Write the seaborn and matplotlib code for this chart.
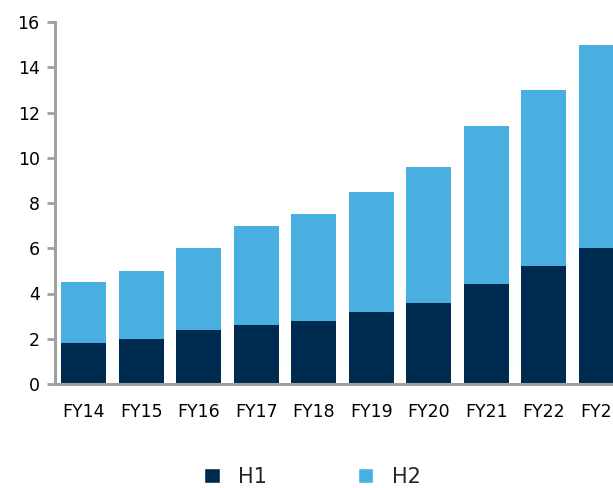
import matplotlib
matplotlib.use("Agg")
import matplotlib.pyplot as plt
from matplotlib.patches import Patch
import numpy as np
import pandas as pd
import seaborn as sns

years = ["FY14", "FY15", "FY16", "FY17", "FY18", "FY19", "FY20", "FY21", "FY22", "FY23"]
h1 = [1.8, 2.0, 2.4, 2.6, 2.8, 3.2, 3.6, 4.4, 5.2, 6.0]
h2 = [2.7, 3.0, 3.6, 4.4, 4.7, 5.3, 6.0, 7.0, 7.8, 9.0]
yticks = [0, 2, 4, 6, 8, 10, 12, 14, 16]

c_h1 = "#002B50"
c_h2 = "#48AFE0"
spine_col = "#A0A0A0"

df = pd.DataFrame({"year": years, "H1": h1, "H2": h2})
df["total"] = df["H1"] + df["H2"]

sns.set_theme(style="white")
plt.rcParams["font.family"] = ["DejaVu Sans"]

W, H = 613, 488
fig = plt.figure(figsize=(W / 100, H / 100), dpi=100)
left, right, bottom, top = 55, 630, 384, 22
ax = fig.add_axes([left / W, (H - bottom) / H, (right - left) / W, (bottom - top) / H])

# H2 stacked on top of H1: full-height bar first, H1 segment over it
sns.barplot(data=df, x="year", y="total", color=c_h2, width=0.79,
            saturation=1, edgecolor="none", ax=ax)
sns.barplot(data=df, x="year", y="H1", color=c_h1, width=0.79,
            saturation=1, edgecolor="none", ax=ax)

ax.set_xlim(-0.5, len(years) - 0.5)
ax.set_ylim(0, 16)
ax.set_yticks(yticks)
ax.set_xlabel("")
ax.set_ylabel("")

for s in ["top", "right"]:
    ax.spines[s].set_visible(False)
for s in ["left", "bottom"]:
    ax.spines[s].set_color(spine_col)
    ax.spines[s].set_linewidth(2.2)

ax.tick_params(axis="y", left=True, length=6, width=2, color=spine_col,
               labelsize=12.5, pad=5, labelcolor="black")
ax.tick_params(axis="x", bottom=False, labelsize=12.5, pad=8, labelcolor="black")

handles = [Patch(facecolor=c_h1, label="H1"), Patch(facecolor=c_h2, label="H2")]
fig.legend(handles=handles, loc="center", bbox_to_anchor=(0.5 + 6 / W, (H - 477) / H),
           ncol=2, frameon=False, fontsize=15, handlelength=0.75, handleheight=0.75,
           columnspacing=4.35, handletextpad=0.9)

fig.savefig("out.png", dpi=100)
